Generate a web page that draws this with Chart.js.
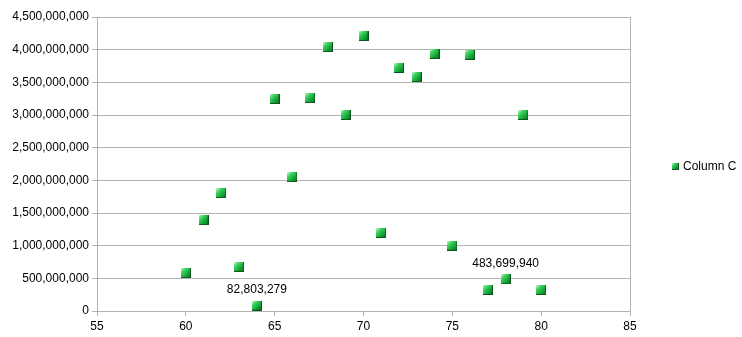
<!DOCTYPE html>
<html>
<head>
<meta charset="utf-8">
<script src="https://cdn.jsdelivr.net/npm/chart.js@4/dist/chart.umd.min.js"></script>
<style>
  html, body { margin: 0; padding: 0; background: #fff; }
  #wrap { width: 742px; height: 337px; }
</style>
</head>
<body>
<div id="wrap"><canvas id="myChart"></canvas></div>
<script>
var seriesName = "Column C";
var xValues = [60, 61, 62, 63, 64, 65, 66, 67, 68, 69, 70, 71, 72, 73, 74, 75, 76, 77, 78, 79, 80];
var yValues = [580000000, 1390000000, 1805000000, 673000000, 82803279, 3245000000, 2050000000,
               3260000000, 4040000000, 3000000000, 4210000000, 1195000000, 3720000000, 3580000000,
               3935000000, 1000000000, 3920000000, 322000000, 483699940, 3000000000, 322000000];
// points that carry a value label
var labelledX = [64, 78];
var xTicks = [55, 60, 65, 70, 75, 80, 85];
var yTicks = [0, 500000000, 1000000000, 1500000000, 2000000000, 2500000000,
              3000000000, 3500000000, 4000000000, 4500000000];

var gridColor = "#b3b3b3";
var fontFamily = "'Liberation Sans', Arial, sans-serif";

// little bevelled green square used as point marker
function makeMarker(size) {
  var c = document.createElement("canvas");
  c.width = size;
  c.height = size;
  var g = c.getContext("2d");
  g.fillStyle = "#0a561b";
  g.fillRect(0, 0, size, size);
  var grad = g.createLinearGradient(0, 0, size - 1, size - 1);
  grad.addColorStop(0, "#d4f8d4");
  grad.addColorStop(0.3, "#3fd463");
  grad.addColorStop(0.7, "#14a236");
  grad.addColorStop(1, "#0c7c25");
  g.fillStyle = grad;
  g.fillRect(0, 0, size - 1, size - 1);
  return c;
}
var marker = makeMarker(10);
var legendMarker = makeMarker(7);

var points = xValues.map(function (x, i) { return { x: x, y: yValues[i] }; });

function fmt(v) {
  return Number(v).toLocaleString("en-US");
}

// value labels above selected points
var pointLabels = {
  id: "pointLabels",
  afterDatasetsDraw: function (chart) {
    var ctx = chart.ctx;
    var meta = chart.getDatasetMeta(0);
    ctx.save();
    ctx.font = "12px " + fontFamily;
    ctx.fillStyle = "#000";
    ctx.textAlign = "center";
    ctx.textBaseline = "middle";
    meta.data.forEach(function (el, i) {
      if (labelledX.indexOf(xValues[i]) >= 0) {
        ctx.fillText(fmt(yValues[i]), el.x, el.y - 16);
      }
    });
    ctx.restore();
  }
};

// legend on the right, next to the plot
var sideLegend = {
  id: "sideLegend",
  afterDraw: function (chart) {
    var ctx = chart.ctx;
    var area = chart.chartArea;
    var cy = (area.top + area.bottom) / 2 + 3;
    var x = area.right + 42;
    ctx.save();
    ctx.drawImage(legendMarker, x, Math.round(cy - 4));
    ctx.font = "12px " + fontFamily;
    ctx.fillStyle = "#000";
    ctx.textAlign = "left";
    ctx.textBaseline = "middle";
    ctx.fillText(seriesName, x + 11, cy);
    ctx.restore();
  }
};

new Chart("myChart", {
  type: "scatter",
  data: {
    datasets: [{
      label: seriesName,
      data: points,
      pointStyle: marker,
      pointRadius: 5,
      pointHoverRadius: 5
    }]
  },
  options: {
    responsive: true,
    maintainAspectRatio: false,
    animation: false,
    layout: { padding: { top: 17, right: 112, left: 0, bottom: 0 } },
    plugins: {
      legend: { display: false },
      tooltip: { enabled: false }
    },
    scales: {
      x: {
        type: "linear",
        min: 55,
        max: 85,
        afterBuildTicks: function (scale) {
          scale.ticks = xTicks.map(function (v) { return { value: v }; });
        },
        afterFit: function (scale) { scale.height = 26; },
        border: { display: true, color: gridColor },
        grid: {
          color: function (c) { return c.tick && c.tick.value === 85 ? gridColor : "transparent"; },
          tickColor: gridColor,
          tickLength: 5
        },
        ticks: {
          color: "#000",
          padding: 3,
          maxRotation: 0,
          font: { family: fontFamily, size: 12 }
        }
      },
      y: {
        type: "linear",
        min: 0,
        max: 4500000000,
        afterBuildTicks: function (scale) {
          scale.ticks = yTicks.map(function (v) { return { value: v }; });
        },
        afterFit: function (scale) { scale.width = 97; },
        border: { display: true, color: gridColor },
        grid: { color: gridColor, tickColor: gridColor, tickLength: 5 },
        ticks: {
          color: "#000",
          padding: 3,
          font: { family: fontFamily, size: 12 },
          callback: function (v) { return fmt(v); }
        }
      }
    }
  },
  plugins: [pointLabels, sideLegend]
});
</script>
</body>
</html>
